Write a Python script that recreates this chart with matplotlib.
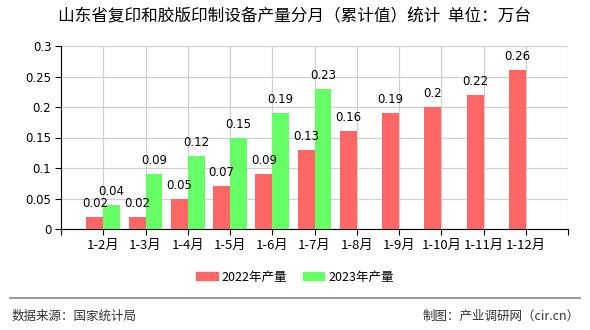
import matplotlib
matplotlib.use("Agg")
import matplotlib.pyplot as plt
from matplotlib.patches import Patch
from matplotlib.lines import Line2D
import numpy as np

plt.rcParams['font.family'] = ['Noto Sans CJK SC', 'DejaVu Sans']

categories = ["1-2月", "1-3月", "1-4月", "1-5月", "1-6月", "1-7月", "1-8月", "1-9月", "1-10月", "1-11月", "1-12月"]
values_2022 = [0.02, 0.02, 0.05, 0.07, 0.09, 0.13, 0.16, 0.19, 0.2, 0.22, 0.26]
values_2023 = [0.04, 0.09, 0.12, 0.15, 0.19, 0.23]
series_names = ["2022年产量", "2023年产量"]
yticks = [0, 0.05, 0.1, 0.15, 0.2, 0.25, 0.3]
ytick_labels = ["0", "0.05", "0.1", "0.15", "0.2", "0.25", "0.3"]
title = "山东省复印和胶版印制设备产量分月（累计值）统计  单位：万台"
source_text = "数据来源：国家统计局"
credit_text = "制图：产业调研网（cir.cn）"

c_red = "#FF6666"
c_green = "#66FF66"

fig = plt.figure(figsize=(5.9, 3.3), dpi=100)
ax = fig.add_axes([61/590, 1-229/330, (568-61)/590, (229-46)/330])

x22 = np.arange(len(values_2022))
x23 = np.arange(len(values_2023))
w = 0.4
ax.bar(x22 - w/2, values_2022, width=w, color=c_red, zorder=3)
ax.bar(x23 + w/2, values_2023, width=w, color=c_green, zorder=3)

for xi, v in zip(x22, values_2022):
    ax.annotate(f"{v:g}", (xi - w/2, v), xytext=(0, 5), textcoords="offset points",
                ha="center", va="bottom", fontsize=8.5, family="DejaVu Sans", zorder=4)
for xi, v in zip(x23, values_2023):
    ax.annotate(f"{v:g}", (xi + w/2, v), xytext=(0, 5), textcoords="offset points",
                ha="center", va="bottom", fontsize=8.5, family="DejaVu Sans", zorder=4)

ax.set_xlim(-1, 11)
ax.set_ylim(0, 0.3)
ax.set_xticks(np.arange(-1, 12))
ax.set_xticklabels([""] + categories + [""], fontsize=9.5)
ax.set_yticks(yticks)
ax.set_yticklabels(ytick_labels, fontsize=8.5, family="DejaVu Sans")
ax.grid(True, color="#D0D0D0", linewidth=0.9, zorder=0)
ax.spines["top"].set_visible(False)
ax.spines["right"].set_visible(False)
ax.spines["left"].set_color("black")
ax.spines["bottom"].set_color("black")
ax.tick_params(axis="both", length=4, color="black", width=0.8, pad=3)

fig.text(0.5, 1-17/330, title, ha="center", va="center", fontsize=12)

handles = [Patch(color=c_red), Patch(color=c_green)]
fig.legend(handles, series_names, loc="center", bbox_to_anchor=(0.5, 1-277/330),
           ncol=2, frameon=False, fontsize=9, handlelength=1.7, handleheight=0.6,
           columnspacing=1.3, handletextpad=0.3)

fig.add_artist(Line2D([10/590, 580/590], [1-298/330, 1-298/330], color="#888888", linewidth=1.2))
fig.text(12/590, 1-316/330, source_text, ha="left", va="center", fontsize=9, color="#333333")
fig.text(580/590, 1-316/330, credit_text, ha="right", va="center", fontsize=9, color="#333333")

fig.savefig("out.png", dpi=100)
